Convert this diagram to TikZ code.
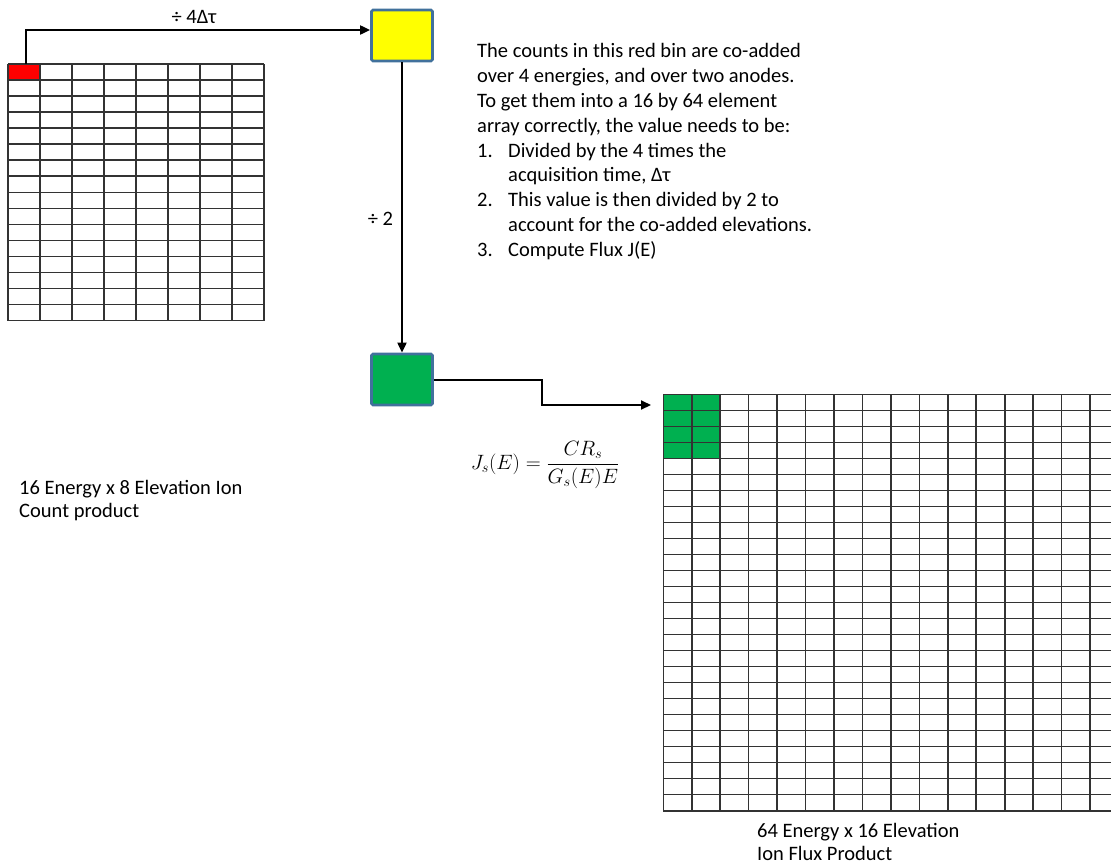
\documentclass[tikz,border=0pt]{standalone}
\usepackage{fontspec}
\setmainfont{Carlito}
\usetikzlibrary{arrows.meta}
\definecolor{boxborder}{HTML}{41719C}
\definecolor{boxyellow}{HTML}{FFFF00}
\definecolor{boxgreen}{HTML}{00B050}
\definecolor{binred}{HTML}{FF0000}
\tikzset{
  gridline/.style={line width=1.6pt, black!80},
  procbox/.style={draw=boxborder, line width=2.8pt, rounded corners=1.5pt, minimum width=61pt, minimum height=51pt, inner sep=0pt},
  conn/.style={line width=2pt, -{Triangle[length=10pt,width=9pt]}},
  lbl/.style={font=\fontsize{20.5}{23}\selectfont, inner sep=0pt},
  txt/.style={font=\fontsize{20.5}{24.8}\selectfont, align=left, inner sep=0pt, anchor=north west},
}
\begin{document}
\begin{tikzpicture}[x=1pt,y=-1pt]
\useasboundingbox (0,0) rectangle (1111,865);
% left grid
\node[fill=binred, minimum width=32pt, minimum height=16pt, inner sep=0pt, anchor=north west] (red) at (8,64) {};
\foreach \i in {0,...,8} \draw[gridline] (8+32*\i,64) -- (8+32*\i,320.7);
\foreach \j in {0,...,16} \draw[gridline] (8,64+16.04*\j) -- (264,64+16.04*\j);
% right grid
\node[fill=boxgreen, minimum width=57pt, minimum height=64pt, inner sep=0pt, anchor=north west] (gc) at (663.3,394.3) {};
\node[minimum width=447pt, minimum height=416.4pt, inner sep=0pt, anchor=north west] (rg) at (663.3,394.3) {};
\foreach \i in {0,...,15} \draw[gridline] (663.3+28.45*\i,394.3) -- (663.3+28.45*\i,810.7);
\foreach \j in {0,...,26} \draw[gridline] (663.3,394.3+16.015*\j) -- (1111,394.3+16.015*\j);
% boxes
\node[procbox, fill=boxyellow] (yb) at (402,35.5) {};
\node[procbox, fill=boxgreen] (gb) at (402,379.5) {};
% connectors
\coordinate (ybin) at ([yshift=5.5pt]yb.west);
\draw[conn] ([xshift=2pt]red.north) |- (ybin);
\draw[conn] (yb.south) -- (gb.north);
\coordinate (rgin) at (651,405);
\draw[conn] (gb.east) -- (542,379.5) |- (rgin);
% labels
\node[lbl] (l1) at (194,17) {÷ 4Δτ};
\node[lbl] (l2) at (380.5,219) {÷ 2};
\node[txt] (desc) at (477,43.5) {The counts in this red bin are co-added\\
over 4 energies, and over two anodes.\\
To get them into a 16 by 64 element\\
array correctly, the value needs to be:\\
\makebox[31pt][l]{1.}Divided by the 4 times the\\
\hspace*{31pt}acquisition time, Δτ\\
\makebox[31pt][l]{2.}This value is then divided by 2 to\\
\hspace*{31pt}account for the co-added elevations.\\
\makebox[31pt][l]{3.}Compute Flux J(E)};
\node[inner sep=0pt, font=\fontsize{19.5}{22}\selectfont] (eq) at (545,465) {$\displaystyle J_s(E)=\frac{CR_s}{G_s(E)E}$};
\node[txt, font=\fontsize{20.5}{23}\selectfont] (lt) at (19,479.6) {16 Energy x 8 Elevation Ion\\Count product};
\node[txt, font=\fontsize{20.5}{23}\selectfont] (bt) at (757,822.6) {64 Energy x 16 Elevation\\Ion Flux Product};
\end{tikzpicture}
\end{document}
